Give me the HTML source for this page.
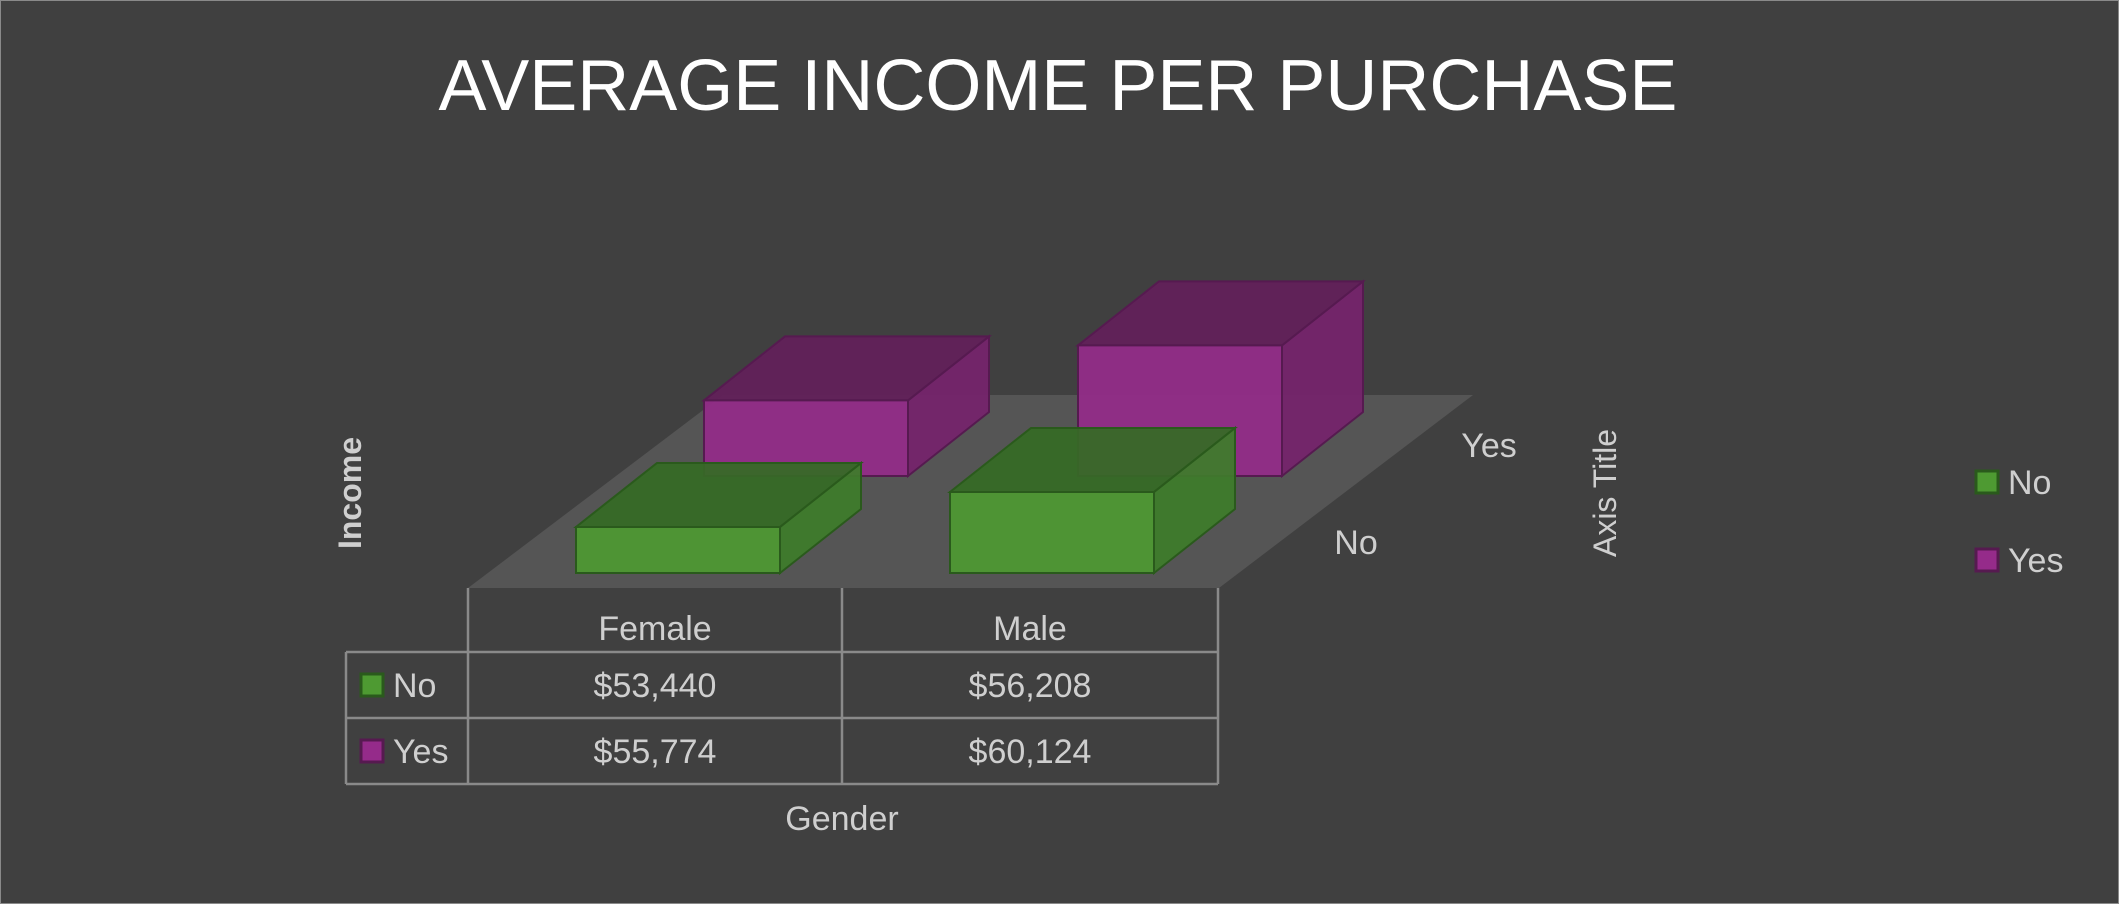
<!DOCTYPE html>
<html><head><meta charset="utf-8"><style>
html,body{margin:0;padding:0;background:#404040;}
svg{display:block;}
text{font-family:"Liberation Sans",sans-serif;fill:#cfcfcf;}
</style></head><body>
<svg id="chart" width="2119" height="904" viewBox="0 0 2119 904" xmlns="http://www.w3.org/2000/svg">
<rect x="0.5" y="0.5" width="2118" height="903" fill="#404040" stroke="#8a8a8a" stroke-width="1"/>
<text x="1058" y="110" text-anchor="middle" font-size="72" style="fill:#ffffff">AVERAGE INCOME PER PURCHASE</text>
<polygon points="468,588 1219,588 1473,395 723,395" fill="#555555"/>
<g id="bars"></g>
<g id="table"></g>
<text transform="translate(361,493) rotate(-90)" text-anchor="middle" font-size="32" font-weight="bold">Income</text>
<text transform="translate(1616,493) rotate(-90)" text-anchor="middle" font-size="32">Axis Title</text>
<text x="1489" y="457" text-anchor="middle" font-size="34">Yes</text>
<text x="1356" y="554" text-anchor="middle" font-size="34">No</text>
<text x="842" y="830" text-anchor="middle" font-size="34">Gender</text>
<g>
<rect x="1976" y="471" width="22" height="22" fill="#4e9a32" stroke="#2a5a1c" stroke-width="3"/>
<text x="2008" y="494" font-size="34">No</text>
<rect x="1976" y="549" width="22" height="22" fill="#952b8a" stroke="#561a50" stroke-width="3"/>
<text x="2008" y="572" font-size="34">Yes</text>
</g>
</svg>
<script>
const categories = ["Female", "Male"];
const seriesNames = ["No", "Yes"];
const seriesNo = [53440, 56208];
const seriesYes = [55774, 60124];
const valueLabels = [["$53,440", "$56,208"], ["$55,774", "$60,124"]];

const NS = "http://www.w3.org/2000/svg";
const vMin = 49800, pxPer = 0.01265;
function hy(v){ return (v - vMin) * pxPer; }
const colFront = ["#4e9a32", "#952b8a"], colTop = ["#356b25", "#63205a"], colSide = ["#3e7d2a", "#76236c"], colEdge = ["#2a5a1c", "#561a50"];
function xCat(i){ return 576 + i * 374; }
function rowOff(s){ return {dx: s * 128, dy: -s * 97}; }
const bw = 204, ddx = 81, ddy = -64, baseY = 573;
const barsG = document.getElementById('bars');
function poly(pts, fill, stroke, name){
  const p = document.createElementNS(NS, 'polygon');
  p.setAttribute('points', pts.map(a => a.join(',')).join(' '));
  p.setAttribute('fill', fill); p.setAttribute('fill-opacity', '0.92');
  p.setAttribute('stroke', stroke); p.setAttribute('stroke-width', '2');
  
  
  barsG.appendChild(p);
}
const series = [seriesNo, seriesYes];
for (let s = 1; s >= 0; s--) {
  for (let i = 0; i < categories.length; i++) {
    const o = rowOff(s);
    const x0 = xCat(i) + o.dx, yb = baseY + o.dy, h = hy(series[s][i]), yt = yb - h;
    const g = document.createElementNS(NS, 'g');
    
    
    poly([[x0+bw,yb],[x0+bw+ddx,yb+ddy],[x0+bw+ddx,yt+ddy],[x0+bw,yt]], colSide[s], colEdge[s], 'bar-side');
    poly([[x0,yt],[x0+bw,yt],[x0+bw+ddx,yt+ddy],[x0+ddx,yt+ddy]], colTop[s], colEdge[s], 'bar-top');
    poly([[x0,yb],[x0+bw,yb],[x0+bw,yt],[x0,yt]], colFront[s], colEdge[s], 'bar-front');
  }
}
// table
const tg = document.getElementById('table');
function line(x1,y1,x2,y2,name){
  const l = document.createElementNS(NS,'line');
  l.setAttribute('x1',x1);l.setAttribute('y1',y1);l.setAttribute('x2',x2);l.setAttribute('y2',y2);
  l.setAttribute('stroke','#8a8a8a');l.setAttribute('stroke-width','2.5');
  
  
  tg.appendChild(l);
}
function txt(x,y,s,name,anchor){
  const t = document.createElementNS(NS,'text');
  t.setAttribute('x',x);t.setAttribute('y',y);t.setAttribute('font-size','34');
  t.setAttribute('text-anchor',anchor||'middle');t.textContent=s;
  
  
  tg.appendChild(t);
}
const colX = [468, 842, 1218], rowY = [588, 652, 718, 784], left = 346;
colX.forEach(x => line(x, 588, x, 784, 'table-vline'));
line(left, 652, left, 784, 'table-vline');
[652, 718, 784].forEach(y => line(left, y, 1218, y, 'table-hline'));
categories.forEach((c, i) => txt((colX[i]+colX[i+1])/2, 640, c, 'table-header'));
for (let s = 0; s < 2; s++) {
  const yc = (rowY[s+1] + rowY[s+2]) / 2;
  const r = document.createElementNS(NS,'rect');
  r.setAttribute('x',361);r.setAttribute('y',yc-11);r.setAttribute('width',22);r.setAttribute('height',22);
  r.setAttribute('fill',colFront[s]);r.setAttribute('stroke',colEdge[s]);r.setAttribute('stroke-width','3');
  
  
  tg.appendChild(r);
  txt(393, yc+12, seriesNames[s], 'table-row-label', 'start');
  for (let i = 0; i < 2; i++) txt((colX[i]+colX[i+1])/2, yc+12, valueLabels[s][i], 'table-value');
}
</script>
</body></html>
